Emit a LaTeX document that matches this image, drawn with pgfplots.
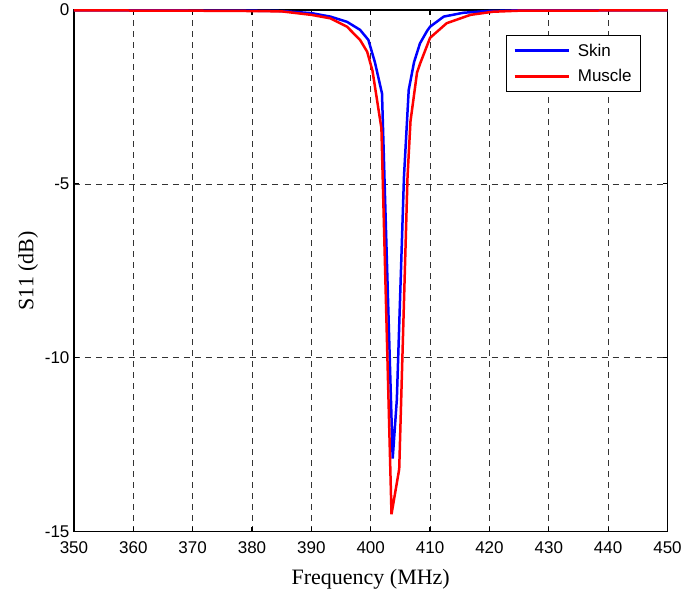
\documentclass[border=0pt]{standalone}
\usepackage{fontspec}
\setmainfont{Liberation Serif}
\newfontfamily\arial{Liberation Sans}
\usepackage{pgfplots}
\pgfplotsset{compat=1.18}
\usetikzlibrary{calc}

\begin{document}
\begin{tikzpicture}
\begin{axis}[
  scale only axis,
  width=594pt, height=522pt,
  xmin=350, xmax=450,
  ymin=-15, ymax=0,
  xtick={350,360,...,450},
  ytick={-15,-10,-5,0},
  grid=major,
  grid style={black!80, line width=0.6pt, dash pattern=on 6pt off 5pt},
  axis line style={line width=1.6pt},
  tick style={black, line width=1.2pt},
  major tick length=5pt,
  tick align=inside,
  /pgf/number format/assume math mode=true,
  tick label style={font=\fontsize{17}{17}\selectfont\arial},
  xticklabel style={yshift=-7pt},
  yticklabel style={xshift=-1pt},
  label style={font=\fontsize{22}{22}\selectfont},
  xlabel={Frequency (MHz)},
  xlabel style={yshift=-8pt},
  ylabel={S11 (dB)},
  legend style={at={(0.956,0.952)}, anchor=north east, draw=black,
    line width=1.4pt, font=\fontsize{17}{17}\selectfont\arial,
    inner xsep=7pt, inner ysep=6pt, row sep=8pt,
    /tikz/every odd column/.append style={column sep=6pt}},
  legend cell align=left,
  legend image code/.code={\draw[#1] (0pt,0pt) -- (54pt,0pt);},
]
% Skin
\addplot[blue, line width=2.5pt] coordinates {
  (350,-0.01) (360,-0.01) (370,-0.015) (380,-0.02) (385,-0.03)
  (390,-0.09) (393.2,-0.19) (396,-0.34) (398.2,-0.57) (399.6,-0.86)
  (400.7,-1.5) (401.9,-2.4) (403.7,-12.9) (404.4,-11.2) (405.6,-4.8)
  (406.4,-2.3) (407.3,-1.5) (408.3,-0.96) (409.5,-0.6) (410,-0.48)
  (412.3,-0.19) (415.6,-0.08) (419.6,-0.03) (425,-0.01) (450,-0.01)
};
% Muscle
\addplot[red, line width=2.5pt] coordinates {
  (350,-0.01) (370,-0.02) (380,-0.03) (385,-0.04) (390,-0.14)
  (393.2,-0.24) (396,-0.48) (398.2,-0.86) (399.4,-1.2) (400.3,-1.75)
  (401.8,-3.4) (403.5,-14.5) (404.8,-13.2) (406.2,-4.8) (406.7,-3.2)
  (407.8,-1.8) (408.3,-1.55) (410,-0.8) (412.8,-0.38) (416.8,-0.14)
  (420.6,-0.05) (425,-0.02) (450,-0.01)
};
\legend{Skin, Muscle}
\end{axis}
\path ($(current axis.south west)+(-74pt,-60pt)$) rectangle ($(current axis.north east)+(17pt,10pt)$);
\end{tikzpicture}
\end{document}
